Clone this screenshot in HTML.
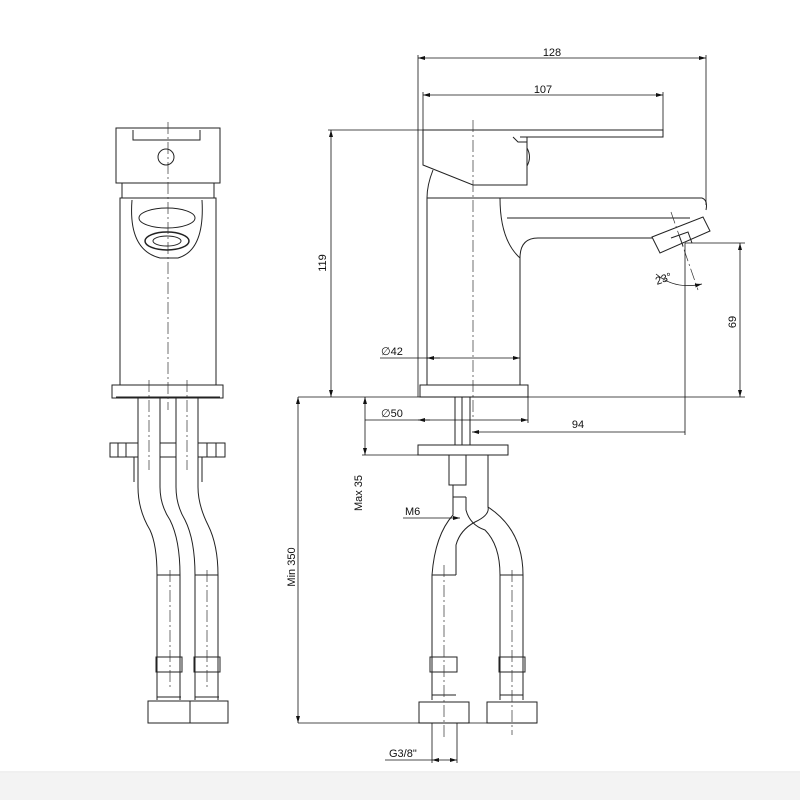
<!DOCTYPE html>
<html><head><meta charset="utf-8"><style>
html,body{margin:0;padding:0;background:#fff;}
svg{display:block}
text{font-family:"Liberation Sans",sans-serif;font-size:11px;fill:#111}
</style></head><body>
<svg width="800" height="800" viewBox="0 0 800 800" xmlns="http://www.w3.org/2000/svg">
<defs>
<marker id="a" markerWidth="8" markerHeight="6" refX="7" refY="3" orient="auto-start-reverse" markerUnits="userSpaceOnUse"><path d="M0,1 L7,3 L0,5 z" fill="#111"/></marker>
</defs>
<rect x="0" y="773" width="800" height="27" fill="#f3f3f3"/>
<line x1="0" y1="772" x2="800" y2="772" stroke="#e2e2e2"/>
<g fill="none" stroke="#222" stroke-width="1">
<!-- LEFT VIEW -->
<rect x="116" y="128" width="104" height="55"/>
<path d="M133,130 L133,140 L200,140 L200,130"/>
<circle cx="166" cy="157" r="8"/>
<path d="M122,183 L122,198 M214,183 L214,198"/>
<rect x="120" y="198" width="96" height="187"/>
<path d="M132,200 Q128,250 160,258 L178,258 Q205,250 202,200"/>
<ellipse cx="167" cy="218" rx="28" ry="10"/>
<ellipse cx="167" cy="241" rx="22" ry="9" stroke-width="1.5"/>
<ellipse cx="167" cy="241" rx="14" ry="5"/>
<rect x="112" y="385" width="111" height="13"/>
<line x1="116" y1="397" x2="220" y2="397"/>
<path d="M138,398 V487 M160,398 V487 M176,398 V487 M198,398 V487"/>
<rect x="110" y="443" width="28" height="14"/><path d="M118,443V457 M126,443V457"/>
<rect x="160" y="443" width="16" height="14"/>
<rect x="198" y="443" width="27" height="14"/><path d="M207,443V457 M216,443V457"/>
<path d="M134,457 V482 M202,457 V482"/>
<path d="M138,487 Q138,510 150,530 Q157,545 157,575 V700"/>
<path d="M160,487 Q160,505 170,520 Q180,540 180,575 V700"/>
<path d="M176,487 Q176,505 185,520 Q195,540 195,575 V700"/>
<path d="M198,487 Q198,505 208,525 Q218,545 218,575 V700"/>
<path d="M157,575 H180 M195,575 H218"/>
<rect x="156" y="657" width="26" height="15"/><rect x="194" y="657" width="26" height="15"/>
<path d="M157,697 H181 M195,697 H219"/>
<rect x="148" y="701" width="80" height="22"/>
<line x1="190" y1="701" x2="190" y2="723"/>
<!-- SIDE VIEW -->
<path d="M423,130 H663 V137 H520"/>
<path d="M423,130 V165 L473,185 H527 V137"/>
<path d="M513,137 L518,142 H527"/>
<path d="M527,148 Q532,157 527,166"/>
<path d="M433,170 Q427,185 427,198"/>
<path d="M427,198 H505 M427,198 V385 M520,258 V385"/>
<path d="M500,198 H702 Q708,200 706,210"/>
<path d="M507,218 H690"/>
<path d="M500,198 Q500,240 520,258"/>
<path d="M520,258 Q520,238 538,238 H652"/>
<path d="M652,237 L703,217 L710,231 L660,253 Z"/>
<path d="M671,238 L688,232 L692,243 M679,235 L683,246"/>
<rect x="420" y="385" width="108" height="12"/>
<path d="M455,397 V445 M470,397 V445 M462,397 V445"/>
<rect x="418" y="445" width="90" height="10"/>
<path d="M449,455 V485 H466 V455 M453,485 V497 H466"/>
<path d="M453,497 V515 Q435,535 432,575 V700 M456,575 V545 Q460,530 475,522 Q490,515 488,507 L488,455"/>
<path d="M466,497 V510 Q470,525 485,530 Q500,545 500,575 V700 M488,507 Q523,530 523,575 V700"/>
<path d="M432,575 H456 M500,575 H523"/>
<rect x="430" y="657" width="27" height="15"/><rect x="499" y="657" width="26" height="15"/>
<path d="M432,695 H456 M500,695 H523"/>
<rect x="419" y="702" width="50" height="21"/><rect x="487" y="702" width="50" height="21"/>
</g>
<!-- center lines -->
<g stroke="#333" stroke-width="0.7" stroke-dasharray="12,3,2,3" fill="none">
<path d="M168,122 V410 M149,380 V470 M187,380 V470"/>
<path d="M170,570 V690 M207,570 V690"/>
<path d="M473,120 V420 M444,565 V740 M512,570 V735"/>
<path d="M671,212 L698,290"/>
</g>
<!-- dimension lines -->
<g stroke="#111" stroke-width="0.8" fill="none">
<line x1="418" y1="55" x2="418" y2="397"/>
<line x1="706" y1="55" x2="706" y2="205"/>
<line x1="423" y1="92" x2="423" y2="130"/>
<line x1="663" y1="92" x2="663" y2="130"/>
<line x1="418" y1="58" x2="706" y2="58" marker-start="url(#a)" marker-end="url(#a)"/>
<line x1="423" y1="95" x2="663" y2="95" marker-start="url(#a)" marker-end="url(#a)"/>
<line x1="328" y1="130" x2="423" y2="130"/>
<line x1="331" y1="130" x2="331" y2="397" marker-start="url(#a)" marker-end="url(#a)"/>
<line x1="298" y1="397" x2="745" y2="397"/>
<line x1="685" y1="243" x2="745" y2="243"/>
<line x1="740" y1="243" x2="740" y2="397" marker-start="url(#a)" marker-end="url(#a)"/>
<line x1="685" y1="243" x2="685" y2="435"/>
<line x1="472" y1="432" x2="685" y2="432" marker-start="url(#a)"/>
<line x1="380" y1="358" x2="520" y2="358" marker-end="url(#a)"/>
<line x1="427" y1="358" x2="440" y2="358" marker-start="url(#a)"/>
<line x1="365" y1="420" x2="528" y2="420" marker-end="url(#a)"/>
<line x1="418" y1="420" x2="430" y2="420" marker-start="url(#a)"/>
<line x1="528" y1="397" x2="528" y2="423"/>
<line x1="362" y1="455" x2="418" y2="455"/>
<line x1="365" y1="397" x2="365" y2="455" marker-start="url(#a)" marker-end="url(#a)"/>
<line x1="298" y1="397" x2="298" y2="723" marker-start="url(#a)" marker-end="url(#a)"/>
<line x1="298" y1="723" x2="537" y2="723"/>
<line x1="403" y1="518" x2="460" y2="518" marker-end="url(#a)"/>
<line x1="385" y1="760" x2="432" y2="760"/>
<line x1="432" y1="760" x2="457" y2="760" marker-start="url(#a)" marker-end="url(#a)"/>
<line x1="432" y1="723" x2="432" y2="763"/><line x1="457" y1="723" x2="457" y2="763"/>
<path d="M656,274 Q675,290 702,284" marker-end="url(#a)"/>
</g>
<text x="552" y="56" text-anchor="middle">128</text>
<text x="543" y="93" text-anchor="middle">107</text>
<text transform="translate(326,263) rotate(-90)" text-anchor="middle">119</text>
<text transform="translate(736,322) rotate(-90)" text-anchor="middle">69</text>
<text x="578" y="428" text-anchor="middle">94</text>
<text x="381" y="355">∅42</text>
<text x="381" y="417">∅50</text>
<text transform="translate(362,493) rotate(-90)" text-anchor="middle">Max 35</text>
<text transform="translate(295,567) rotate(-90)" text-anchor="middle">Min 350</text>
<text x="405" y="515">M6</text>
<text x="389" y="757">G3/8"</text>
<text transform="translate(657,285) rotate(-20)" font-size="10">23°</text>
</svg>
</body></html>
